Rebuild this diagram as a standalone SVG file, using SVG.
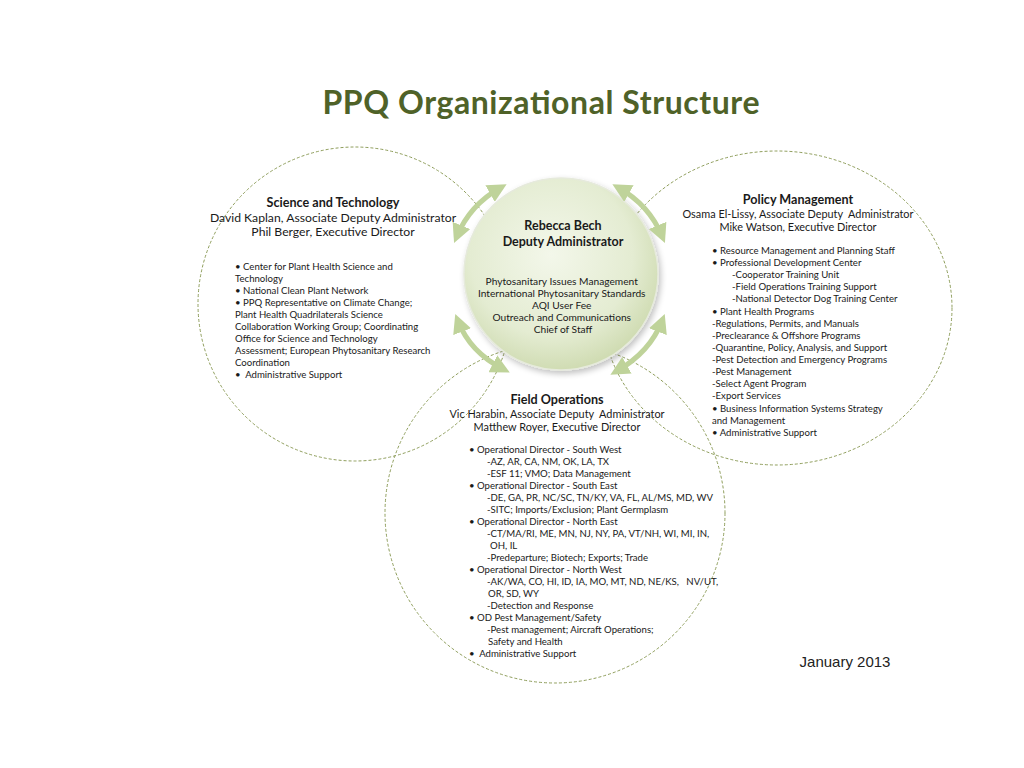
<svg xmlns="http://www.w3.org/2000/svg" width="1024" height="768" viewBox="0 0 1024 768">
<style>
.t{font-family:Lato,"Open Sans","DejaVu Sans",sans-serif;fill:#1a1a1a}
.h{font-size:12.6px;font-weight:bold;text-anchor:middle}
.s{font-size:12.2px;text-anchor:middle}
.s2{font-size:10.9px}
.l{font-size:9.6px}
.c{font-size:10.2px;text-anchor:middle}
.ring{fill:none;stroke:#8f9e5c;stroke-width:1;stroke-dasharray:3 2}
.arr{fill:none;stroke:#bfd39a;stroke-width:5;marker-start:url(#ah);marker-end:url(#ah)}
</style>
<defs>
<marker id="ah" viewBox="0 0 10 10" refX="6" refY="5" markerWidth="19" markerHeight="19" markerUnits="userSpaceOnUse" orient="auto-start-reverse">
<path d="M0,0 L10,5 L0,10 Z" fill="#bfd39a"/>
</marker>
<radialGradient id="cg" cx="0.45" cy="0.4" r="0.6">
<stop offset="0" stop-color="#f3f7ea"/>
<stop offset="0.7" stop-color="#e4ecd2"/>
<stop offset="1" stop-color="#d0dcb3"/>
</radialGradient>
<filter id="sh" x="-20%" y="-20%" width="140%" height="140%">
<feGaussianBlur in="SourceAlpha" stdDeviation="3"/>
<feOffset dx="2" dy="3"/>
<feComponentTransfer><feFuncA type="linear" slope="0.25"/></feComponentTransfer>
<feMerge><feMergeNode/><feMergeNode in="SourceGraphic"/></feMerge>
</filter>
</defs>
<rect width="1024" height="768" fill="#ffffff"/>
<text id="title" x="541" y="114" font-family="Lato,'Open Sans',sans-serif" font-size="32" font-weight="bold" fill="#4f6228" text-anchor="middle" textLength="437">PPQ Organizational Structure</text>

<g id="node-science">
<circle class="ring" cx="355" cy="304" r="157"/>
<text class="t h" x="333" y="207">Science and Technology</text>
<text class="t s" x="333" y="222">David Kaplan, Associate Deputy Administrator</text>
<text class="t s" x="333" y="236">Phil Berger, Executive Director</text>
<text class="t l">
<tspan x="235" y="270">• Center for Plant Health Science and</tspan>
<tspan x="235" y="282">Technology</tspan>
<tspan x="235" y="294">• National Clean Plant Network</tspan>
<tspan x="235" y="306">• PPQ Representative on Climate Change;</tspan>
<tspan x="235" y="318">Plant Health Quadrilaterals Science</tspan>
<tspan x="235" y="330">Collaboration Working Group; Coordinating</tspan>
<tspan x="235" y="342">Office for Science and Technology</tspan>
<tspan x="235" y="354">Assessment; European Phytosanitary Research</tspan>
<tspan x="235" y="366">Coordination</tspan>
<tspan x="235" y="378">•&#160; Administrative Support</tspan>
</text>
</g>

<g id="node-policy">
<ellipse class="ring" cx="777" cy="308" rx="175" ry="157"/>
<text class="t h" x="798" y="204">Policy Management</text>
<text class="t s s2" x="798" y="218">Osama El-Lissy, Associate Deputy&#160; Administrator</text>
<text class="t s s2" x="798" y="231">Mike Watson, Executive Director</text>
<text class="t l">
<tspan x="712" y="254">• Resource Management and Planning Staff</tspan>
<tspan x="712" y="266">• Professional Development Center</tspan>
<tspan x="732" y="278">-Cooperator Training Unit</tspan>
<tspan x="732" y="290">-Field Operations Training Support</tspan>
<tspan x="732" y="302">-National Detector Dog Training Center</tspan>
<tspan x="712" y="315">• Plant Health Programs</tspan>
<tspan x="712" y="327">-Regulations, Permits, and Manuals</tspan>
<tspan x="712" y="339">-Preclearance &amp; Offshore Programs</tspan>
<tspan x="712" y="351">-Quarantine, Policy, Analysis, and Support</tspan>
<tspan x="712" y="363">-Pest Detection and Emergency Programs</tspan>
<tspan x="712" y="375">-Pest Management</tspan>
<tspan x="712" y="387">-Select Agent Program</tspan>
<tspan x="712" y="399">-Export Services</tspan>
<tspan x="712" y="412">• Business Information Systems Strategy</tspan>
<tspan x="712" y="424">and Management</tspan>
<tspan x="712" y="436">• Administrative Support</tspan>
</text>
</g>

<g id="node-field">
<circle class="ring" cx="555" cy="513" r="170"/>
<text class="t h" x="557" y="404">Field Operations</text>
<text class="t s s2" x="557" y="418">Vic Harabin, Associate Deputy&#160; Administrator</text>
<text class="t s s2" x="557" y="431">Matthew Royer, Executive Director</text>
<text class="t l">
<tspan x="469" y="453">• Operational Director - South West</tspan>
<tspan x="487" y="465">-AZ, AR, CA, NM, OK, LA, TX</tspan>
<tspan x="487" y="477">-ESF 11; VMO; Data Management</tspan>
<tspan x="469" y="489">• Operational Director - South East</tspan>
<tspan x="487" y="501">-DE, GA, PR, NC/SC, TN/KY, VA, FL, AL/MS, MD, WV</tspan>
<tspan x="487" y="513">-SITC; Imports/Exclusion; Plant Germplasm</tspan>
<tspan x="469" y="525">• Operational Director - North East</tspan>
<tspan x="487" y="537">-CT/MA/RI, ME, MN, NJ, NY, PA, VT/NH, WI, MI, IN,</tspan>
<tspan x="490" y="549">OH, IL</tspan>
<tspan x="487" y="561">-Predeparture; Biotech; Exports; Trade</tspan>
<tspan x="469" y="573">• Operational Director - North West</tspan>
<tspan x="487" y="585">-AK/WA, CO, HI, ID, IA, MO, MT, ND, NE/KS,&#160;&#160; NV/UT,</tspan>
<tspan x="488" y="597">OR, SD, WY</tspan>
<tspan x="487" y="609">-Detection and Response</tspan>
<tspan x="469" y="621">• OD Pest Management/Safety</tspan>
<tspan x="487" y="633">-Pest management; Aircraft Operations;</tspan>
<tspan x="488" y="645">Safety and Health</tspan>
<tspan x="469" y="657">•&#160; Administrative Support</tspan>
</text>
</g>

<g id="node-deputy">
<ellipse cx="561" cy="274" rx="97" ry="96" fill="url(#cg)" stroke="#e6eadc" stroke-width="1.5" filter="url(#sh)"/>
<text class="t h" x="563" y="230" style="font-size:12.5px">Rebecca Bech</text>
<text class="t h" x="563" y="246" style="font-size:12.5px">Deputy Administrator</text>
<text class="t c">
<tspan x="563" y="285">Phytosanitary Issues Management</tspan>
<tspan x="563" y="297">International Phytosanitary Standards</tspan>
<tspan x="563" y="309">AQI User Fee</tspan>
<tspan x="563" y="321">Outreach and Communications</tspan>
<tspan x="563" y="333">Chief of Staff</tspan>
</text>
</g>

<g id="connectors">
<path class="arr" d="M500,188 Q470,205 457,236"/>
<path class="arr" d="M619,188 Q649,205 662,236"/>
<path class="arr" d="M458,321 Q470,352 503,369"/>
<path class="arr" d="M662,321 Q650,352 617,371"/>
</g>

<text id="date" x="845" y="667" font-family="'Liberation Sans',Arial,sans-serif" font-size="15" fill="#222" text-anchor="middle">January 2013</text>
</svg>
